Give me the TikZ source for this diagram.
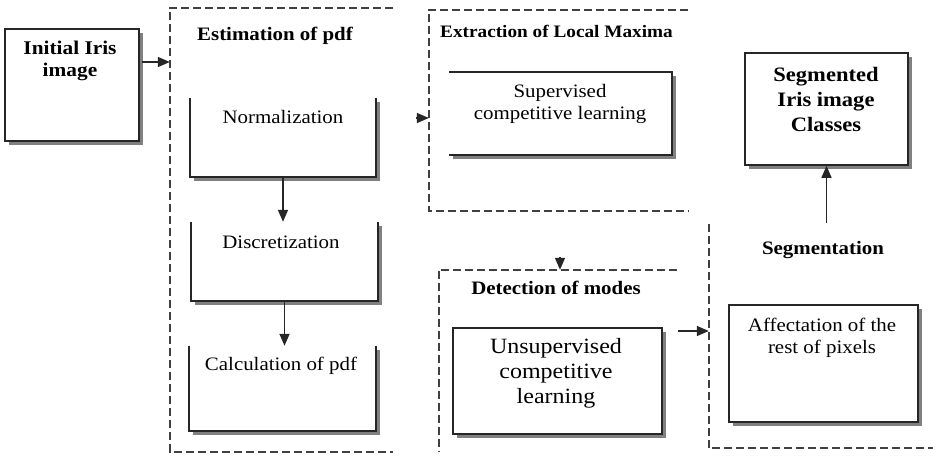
\documentclass[tikz,border=0pt]{standalone}
\usepackage{fontspec}
\setmainfont[FakeStretch=1.1]{Liberation Serif}
\usetikzlibrary{positioning,arrows.meta,shadows}

\begin{document}
\begin{tikzpicture}[
  x=1pt, y=-1pt,
  >={Triangle[length=12pt,width=10pt]},
  boxshade/.style={fill=white, inner sep=0pt, drop shadow={shadow xshift=4pt, shadow yshift=-4pt, fill=black!50, opacity=1}},
  stepbox/.style={boxshade, draw=black!85, line width=1.6pt},
  openbox/.style={boxshade},
  frame/.style={inner sep=0pt},
  edge/.style={draw=black!85, line width=1.6pt},
  grp/.style={draw=black!75, line width=1.5pt, dash pattern=on 8pt off 4pt},
  grptitle/.style={font=\bfseries\fontsize{19}{22}\selectfont, inner sep=0pt},
  txt/.style={font=\fontsize{19}{22}\selectfont, align=center, inner sep=0pt},
  link/.style={->, draw=black!85, line width=1.5pt}
]
\useasboundingbox (0,0) rectangle (933,466);

% group frames
\node[frame, minimum width=223pt, minimum height=444pt] (est) at (281.5,230) {};
\node[frame, minimum width=259pt, minimum height=201pt] (ext) at (558.5,110.5) {};
\node[frame, minimum width=238pt, minimum height=182pt] (det) at (558,361) {};
\node[frame, minimum width=224pt, minimum height=224pt] (seg) at (821,336) {};

\draw[grp] (est.north east) -- (est.north west) -- (est.south west) -- (est.south east);
\draw[grp] (ext.north east) -- (ext.north west) -- (ext.south west) -- (ext.south east);
\draw[grp] (det.north east) -- (det.north west) -- (det.south west);
\draw[grp] (seg.north west) -- (seg.south west) -- (seg.south east);

\node[grptitle] (esttitle) at (275,36) {Estimation of pdf};
\node[grptitle, font=\bfseries\fontsize{17.5}{20}\selectfont] (exttitle) at (556.5,31) {Extraction of Local Maxima};
\node[grptitle] (dettitle) at (556,288) {Detection of modes};
\node[grptitle] (segtitle) at (823,250) {Segmentation};

% boxes
\node[stepbox, minimum width=134pt, minimum height=112pt] (init) at (72,85) {};
\node[openbox, minimum width=186pt, minimum height=79pt] (norm) at (283,137.5) {};
\node[openbox, minimum width=187pt, minimum height=79pt] (disc) at (284.5,261.5) {};
\node[openbox, minimum width=187pt, minimum height=85pt] (calc) at (282.5,388.5) {};
\node[openbox, minimum width=223pt, minimum height=83pt] (sup) at (560.5,113.5) {};
\node[stepbox, minimum width=209pt, minimum height=106pt] (uns) at (557.5,381) {};
\node[stepbox, minimum width=189pt, minimum height=117pt] (aff) at (823.5,363.5) {};
\node[stepbox, minimum width=163pt, minimum height=112pt] (segd) at (826.5,109) {};

\draw[edge] (norm.north west) -- (norm.south west) -- (norm.south east) -- (norm.north east);
\draw[edge] (disc.north west) -- (disc.south west) -- (disc.south east) -- (disc.north east);
\draw[edge] (calc.north west) -- (calc.south west) -- (calc.south east) -- (calc.north east);
\draw[edge] (sup.north west) -- (sup.north east) -- (sup.south east) -- (sup.south west);

% box texts
\node[txt, font=\bfseries\fontsize{19.4}{22}\selectfont] (inittxt) at (70,61) {Initial Iris\\image};
\node[txt] (normtxt) at (283,117) {Normalization};
\node[txt] (disctxt) at (281,242) {Discretization};
\node[txt] (calctxt) at (281,366) {Calculation of pdf};
\node[txt] (suptxt) at (560,104) {Supervised\\competitive learning};
\node[txt, font=\fontsize{21.8}{25}\selectfont] (unstxt) at (556,373) {Unsupervised\\competitive\\learning};
\node[txt] (afftxt) at (822,338) {Affectation of the\\rest of pixels};
\node[txt, font=\bfseries\fontsize{20.5}{25}\selectfont] (segdtxt) at (826,99) {Segmented\\Iris image\\Classes};

% connectors
\coordinate (a1) at (142,62);
\coordinate (a2) at (416,118);
\coordinate (a3) at (560,257);
\coordinate (a4) at (678,331);
\coordinate (a5) at (826.5,223);
\draw[link] (a1) -- (a1 -| est.west);
\draw[link] (norm) -- (norm |- disc.north);
\draw[link] (disc) -- (disc |- calc.north);
\draw[link] (a2) -- (a2 -| ext.west);
\draw[link] (a3) -- (a3 |- det.north);
\draw[link] (a4) -- (a4 -| seg.west);
\draw[link] (a5) -- (segd);

\end{tikzpicture}
\end{document}
